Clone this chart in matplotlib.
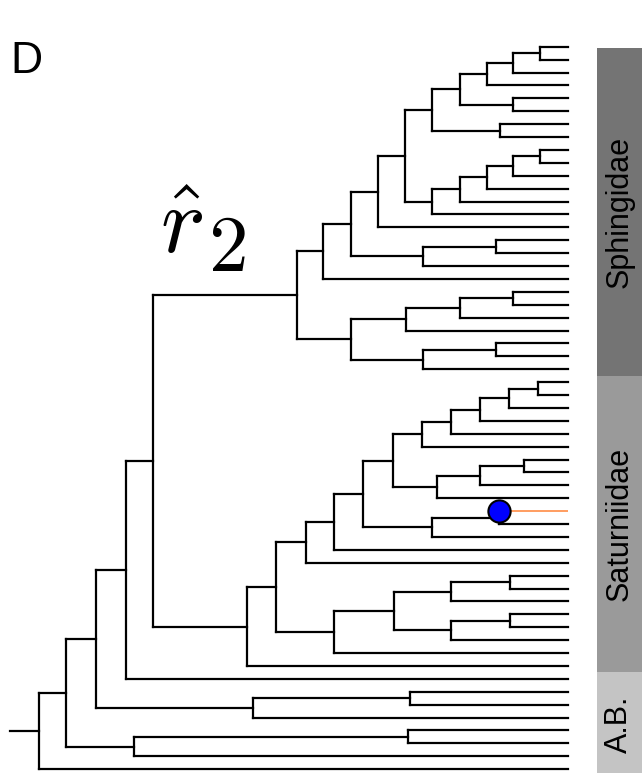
import matplotlib
matplotlib.use('Agg')
import matplotlib.pyplot as plt
from matplotlib.collections import LineCollection
from matplotlib.patches import Rectangle

plt.rcParams['font.family'] = ['Liberation Sans', 'DejaVu Sans']
plt.rcParams['mathtext.fontset'] = 'cm'

# Arbol: (profundidad del nodo, hijo superior, hijo inferior); None = hoja
# profundidad relativa: raiz = 0, hojas = 100
T = None

sphingidae = (48.7,
              (53.7,
               (59.0,
                (64.1,
                 (69.2,
                  (74.3,
                   (79.6,
                    (84.7, (89.6, (94.7, T, T), T), T),
                    (89.6, T, T)),
                   (87.1, T, T)),
                  (74.3,
                   (79.6, (84.7, (89.6, (94.7, T, T), T), T), T),
                   T)),
                 T),
                (72.6, (86.4, T, T), T)),
               T),
              (59.0,
               (69.4, (79.6, (89.6, T, T), T), T),
               (72.6, (86.4, T, T), T)))

saturniidae = (39.2,
               (44.8,
                (50.4,
                 (55.7,
                  (61.2,
                   (66.9,
                    (72.4, (77.9, (83.4, (88.9, (94.3, T, T), T), T), T), T),
                    (75.2, (83.4, (91.7, T, T), T), T)),
                   (74.3, (87.0, T, T), T)),
                  T),
                 T),
                (55.7,
                 (67.0,
                  (77.9, (89.0, T, T), T),
                  (77.9, (89.0, T, T), T)),
                 T)),
               T)

arbol = (0.0,
         (5.05,
          (10.7,
           (16.4, (21.6, sphingidae, saturniidae), T),
           (40.5, (70.1, T, T), T)),
          (18.0, (69.7, T, T), T)),
         T)

profundidad_hojas = 100.0
raiz_tallo = -5.5
hoja_resaltada = 36

grupos = ['Sphingidae', 'Saturniidae', 'A.B.']
grupo_inicio = [0, 26, 49]
grupo_fin = [25, 48, 56]
grupo_colores = ['#747474', '#9a9a9a', '#c4c4c4']

segmentos = []
resaltado = []
contador = [0]


def dibujar(nodo, padre_x):
    # devuelve la posicion y del nodo y agrega sus segmentos
    if nodo is None:
        y = contador[0]
        contador[0] += 1
        if y == hoja_resaltada:
            resaltado.append(((padre_x, y), (profundidad_hojas, y)))
        else:
            segmentos.append(((padre_x, y), (profundidad_hojas, y)))
        return y
    x, arriba, abajo = nodo
    y1 = dibujar(arriba, x)
    y2 = dibujar(abajo, x)
    segmentos.append(((x, y1), (x, y2)))
    y = (y1 + y2) / 2.0
    segmentos.append(((padre_x, y), (x, y)))
    return y


dibujar(arbol, raiz_tallo)

fig = plt.figure(figsize=(6.42, 7.73), dpi=100)
ax = fig.add_axes([0, 0, 1, 1])
ax.set_xlim(-7.43, 114.0)
ax.set_ylim(56.3, -3.62)
ax.axis('off')

ax.add_collection(LineCollection(segmentos, colors='black', linewidths=1.6,
                                 capstyle='projecting', zorder=2))
ax.add_collection(LineCollection(resaltado, colors='#ff8c45', linewidths=1.2,
                                 zorder=2))

(x0, y0), _ = resaltado[0]
ax.plot(x0, y0, 'o', markersize=16, markerfacecolor='#0000ff',
        markeredgecolor='black', markeredgewidth=1.5, zorder=3)

# barras de familias
for nombre, ini, fin, col in zip(grupos, grupo_inicio, grupo_fin, grupo_colores):
    top = ini - 0.5 if ini > 0 else 0.1
    ax.add_patch(Rectangle((105.4, top), 114.0 - 105.4, fin + 0.5 - top,
                           facecolor=col, edgecolor='none', zorder=1))
    ax.text(109.7, (top + fin + 0.5) / 2, nombre, rotation=90, fontsize=22,
            ha='center', va='center', color='black')

fig.text(10 / 642, 1 - 73 / 773, 'D', fontsize=32, va='baseline')
# r gorro con subindice grande, como en el original
fig.text(160 / 642, 1 - 253 / 773, r'$\hat{r}$', fontsize=68, va='baseline')
fig.text(208 / 642, 1 - 271 / 773, r'$2$', fontsize=57, va='baseline')

fig.savefig('out.png', dpi=100)
